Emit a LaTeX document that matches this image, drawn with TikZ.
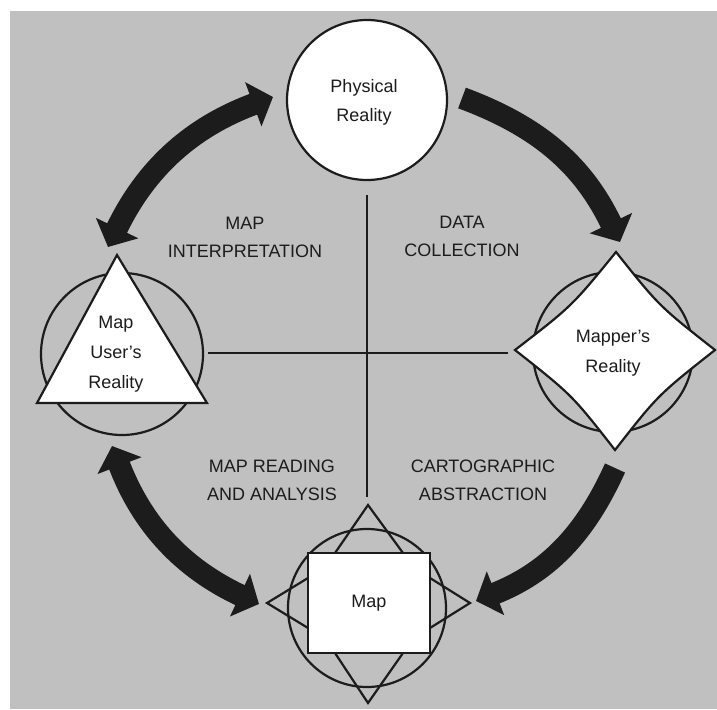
\documentclass[tikz,border=0pt]{standalone}
\usepackage{fontspec}
\setmainfont{Liberation Sans}
\usetikzlibrary{arrows.meta}

\definecolor{paper}{RGB}{192,192,192}
\definecolor{ink}{RGB}{28,28,28}

\begin{document}
\begin{tikzpicture}[x=1pt,y=-1pt,
  outline/.style={draw=ink, line width=2.2pt, line join=miter},
  lbl/.style={font=\fontsize{18}{28}\selectfont, align=center, text=ink, inner sep=0pt},
  nodetext/.style={font=\fontsize{18}{29}\selectfont, align=center, text=ink, inner sep=0pt},
  ring/.style={circle, outline, inner sep=0pt},
  crossline/.style={draw=ink, line width=2.6pt},
  bigarrow/.style={draw=ink, line width=22pt, bend angle=22},
  tip/.tip={Triangle[width=46pt,length=21pt]}]

\useasboundingbox (0,0) rectangle (717,709);
\fill[paper] (10,11) rectangle (717,709);

% central cross
\coordinate (vtop) at (367,195);
\coordinate (vbot) at (367,497);
\coordinate (hleft) at (208,353);
\coordinate (hright) at (508,353);
\draw[crossline] (vtop) -- (vbot);
\draw[crossline] (hleft) -- (hright);

% physical reality
\node[ring, fill=white, minimum size=160pt] (phys) at (367,100) {};
\node[nodetext] (physlbl) at (364,102) {Physical\\Reality};

% map user's reality
\node[ring, minimum size=162pt] (userring) at (122,354) {};
\draw[outline, fill=white] (117,255) -- (207,403) -- (37,403) -- cycle;
\node[nodetext, font=\fontsize{18}{30}\selectfont] (user) at (116,354) {Map\\User's\\Reality};

% mapper's reality
\node[ring, minimum size=160pt] (mapperring) at (613,352) {};
\draw[outline, fill=white]
  (616,252) .. controls (659,306) .. (715,350)
            .. controls (658,395) .. (615,450)
            .. controls (572,395) .. (515,350)
            .. controls (572,306) .. cycle;
\node[nodetext, font=\fontsize{18}{30}\selectfont] (mapper) at (613,353) {Mapper's\\Reality};

% map
\node[ring, minimum size=158pt] (mapring) at (367,608) {};
\draw[outline] (335,553) -- (368,505) -- (403,553);
\draw[outline] (335,653) -- (368,703) -- (403,653);
\draw[outline] (308,578) -- (267,603) -- (308,628);
\draw[outline] (430,578) -- (470,603) -- (430,628);
\node[outline, fill=white, minimum width=122pt, minimum height=100pt,
      font=\fontsize{18}{28}\selectfont, text=ink] (map) at (369,603) {Map};

% quadrant labels
\node[lbl] (interp) at (245,237) {MAP\\INTERPRETATION};
\node[lbl] (collect) at (462,236) {DATA\\COLLECTION};
\node[lbl] (reading) at (272,480) {MAP READING\\AND ANALYSIS};
\node[lbl] (abstract) at (483,480) {CARTOGRAPHIC\\ABSTRACTION};

% cycle arrows
\coordinate (a1s) at (273,97);
\coordinate (a1e) at (108,247);
\coordinate (a2s) at (462,98);
\coordinate (a2e) at (620,242);
\coordinate (a3s) at (112,446);
\coordinate (a3e) at (259,604);
\coordinate (a4s) at (615,468);
\coordinate (a4e) at (476,601);

\draw[bigarrow, tip-tip] (a1s) to[bend right] (a1e);
\draw[bigarrow, -tip] (a2s) to[bend left] (a2e);
\draw[bigarrow, tip-tip] (a3s) to[bend right] (a3e);
\draw[bigarrow, -tip] (a4s) to[bend left] (a4e);

\end{tikzpicture}
\end{document}
